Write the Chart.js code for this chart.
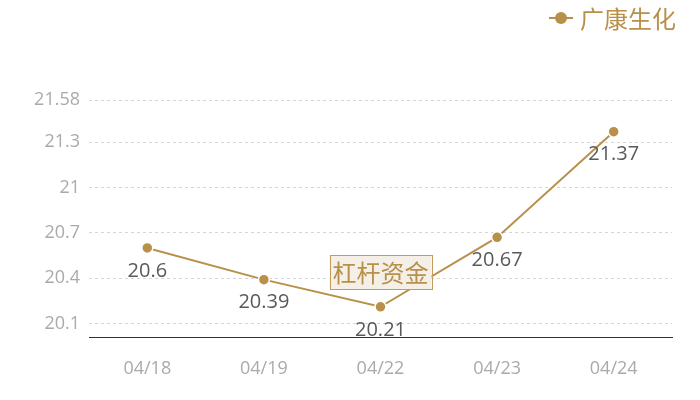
<!DOCTYPE html>
<html>
<head>
<meta charset="utf-8">
<script src="https://cdn.jsdelivr.net/npm/chart.js@4"></script>
<style>
html,body{margin:0;padding:0;background:#fff;}
#wrap{width:700px;height:400px;}
</style>
</head>
<body>
<div id="wrap"><canvas id="c" width="700" height="400"></canvas></div>
<script>
const categories = ['04/18', '04/19', '04/22', '04/23', '04/24'];
const values = [20.6, 20.39, 20.21, 20.67, 21.37];
const yTicks = [20.1, 20.4, 20.7, 21, 21.3, 21.58];
const yMin = 20.01;
const yMax = 21.58;
const seriesName = '广康生化';
const noteText = '杠杆资金';
const noteCategory = '04/22';
const noteValue = 20.44;

const GOLD = '#b8904a';
const FONT = '"Open Sans", "Noto Sans CJK SC", sans-serif';

const overlay = {
  id: 'overlay',
  afterDatasetsDraw(chart) {
    const ctx = chart.ctx;
    const meta = chart.getDatasetMeta(0);
    // data labels
    ctx.save();
    ctx.font = '20px ' + FONT;
    ctx.fillStyle = '#5a5a5a';
    ctx.textAlign = 'center';
    ctx.textBaseline = 'middle';
    meta.data.forEach((pt, i) => {
      ctx.fillText(String(values[i]), pt.x, pt.y + 23);
    });
    ctx.restore();

    // note box
    const xs = chart.scales.x, ys = chart.scales.y;
    const cx = xs.getPixelForValue(categories.indexOf(noteCategory));
    const cy = ys.getPixelForValue(noteValue);
    ctx.save();
    ctx.font = '24px "Noto Sans CJK SC", sans-serif';
    const w = ctx.measureText(noteText).width + 6;
    const h = 34;
    ctx.fillStyle = '#f4efe7';
    ctx.fillRect(cx - w / 2, cy - h / 2, w, h);
    ctx.strokeStyle = '#c49d5e';
    ctx.lineWidth = 1;
    ctx.strokeRect(Math.round(cx - w / 2) + 0.5, Math.round(cy - h / 2) + 0.5, Math.round(w), h);
    ctx.fillStyle = GOLD;
    ctx.textAlign = 'center';
    ctx.textBaseline = 'middle';
    ctx.fillText(noteText, cx, cy + 1);
    ctx.restore();

    // legend (top right)
    ctx.save();
    ctx.font = '24px "Noto Sans CJK SC", sans-serif';
    const tw = ctx.measureText(seriesName).width;
    const right = chart.width - 24;
    const tx = right - tw;
    const ly = 18;
    ctx.fillStyle = GOLD;
    ctx.textAlign = 'left';
    ctx.textBaseline = 'middle';
    ctx.fillText(seriesName, tx, ly + 1);
    ctx.strokeStyle = GOLD;
    ctx.lineWidth = 2;
    ctx.beginPath();
    ctx.moveTo(tx - 31, ly);
    ctx.lineTo(tx - 7, ly);
    ctx.stroke();
    ctx.beginPath();
    ctx.arc(tx - 19, ly, 6, 0, Math.PI * 2);
    ctx.fill();
    ctx.restore();
  }
};

new Chart(document.getElementById('c'), {
  type: 'line',
  data: {
    labels: categories,
    datasets: [{
      label: seriesName,
      data: values,
      borderColor: GOLD,
      borderWidth: 2,
      backgroundColor: GOLD,
      pointBackgroundColor: GOLD,
      pointBorderColor: '#ffffff',
      pointBorderWidth: 1.5,
      pointRadius: 5.5,
      pointHoverRadius: 5.5,
      tension: 0,
      fill: false
    }]
  },
  options: {
    responsive: false,
    animation: false,
    devicePixelRatio: 1,
    layout: { padding: { top: 100, right: 28, left: 0, bottom: 0 } },
    plugins: { legend: { display: false }, tooltip: { enabled: false } },
    scales: {
      x: {
        offset: true,
        grid: { display: false, drawTicks: false },
        border: { display: true, color: '#333333', width: 1 },
        ticks: { color: '#aaaaaa', font: { size: 18, family: FONT }, padding: 21 },
        afterFit(s) { s.height = 63; }
      },
      y: {
        min: yMin,
        max: yMax,
        afterBuildTicks(s) { s.ticks = yTicks.map(v => ({ value: v })); },
        grid: { color: '#d6d6d6', drawTicks: false, lineWidth: 1 },
        border: { display: false, dash: [3, 3] },
        ticks: {
          color: '#aaaaaa',
          font: { size: 18, family: FONT },
          padding: 9,
          callback: v => String(v)
        },
        afterFit(s) { s.width = 89; }
      }
    }
  },
  plugins: [overlay]
});
</script>
</body>
</html>
